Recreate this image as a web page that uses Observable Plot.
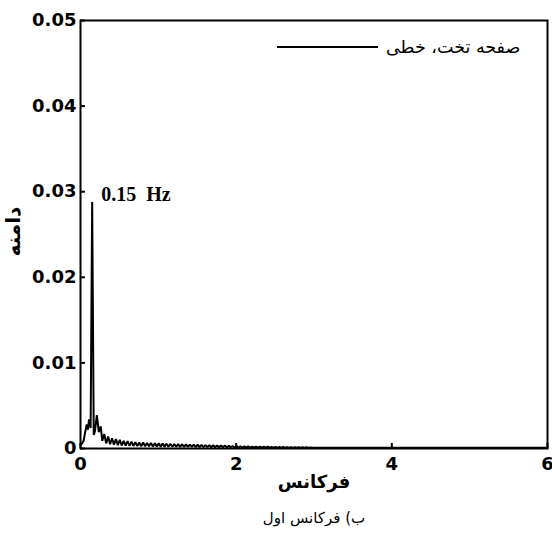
<!DOCTYPE html>
<html>
<head>
<meta charset="utf-8">
<script src="https://cdn.jsdelivr.net/npm/d3@7"></script>
<script src="https://cdn.jsdelivr.net/npm/@observablehq/plot@0.6"></script>
<style>
  html, body { margin: 0; padding: 0; background: #fff; }
  #wrap { position: relative; width: 552px; height: 539px; }
  #legend {
    position: absolute; left: 277px; top: 37px; height: 20px;
    display: flex; align-items: center; gap: 8px;
    font-family: "DejaVu Sans", sans-serif; font-size: 17.5px; line-height: 20px; color: #000;
    white-space: nowrap;
  }
  #legend .swatch { width: 101px; height: 0; border-top: 2px solid #000; }
</style>
</head>
<body>
<div id="wrap">
  <div id="legend"><span class="swatch"></span><span id="legendText"></span></div>
</div>
<script>
// Amplitude spectrum of the flat-plate (linear) response, first mode.
// Frequency in Hz, amplitude in the response units.
const onsetFreq = [0, 0.02, 0.04, 0.06, 0.08, 0.095, 0.11, 0.13, 0.15, 0.17, 0.185, 0.21, 0.235, 0.26];
const onsetAmp  = [0.0004, 0.0006, 0.0009, 0.0019, 0.0028, 0.0022, 0.0034, 0.0024, 0.0288, 0.0016, 0.0020, 0.0039, 0.0019, 0.0026];

// Side-lobe ripple, alternating trough / crest.
const rippleFreq = [
  0.28, 0.305, 0.33, 0.355, 0.38, 0.405, 0.43, 0.455, 0.48, 0.505,
  0.53, 0.555, 0.58, 0.605, 0.63, 0.655, 0.68, 0.705, 0.73, 0.755,
  0.78, 0.805, 0.83, 0.855, 0.88, 0.905, 0.93, 0.955, 0.98, 1.005,
  1.03, 1.055, 1.08, 1.105, 1.13, 1.155, 1.18, 1.205, 1.23, 1.255,
  1.28, 1.305, 1.33, 1.355, 1.38, 1.405, 1.43, 1.455, 1.48, 1.505,
  1.53, 1.555, 1.58, 1.605, 1.63, 1.655, 1.68, 1.705, 1.73, 1.755,
  1.78, 1.805, 1.83, 1.855, 1.88, 1.905, 1.93, 1.955, 1.98, 2.005
];
const rippleAmp = [
  0.0009, 0.0017, 0.0006, 0.0014, 0.0005, 0.0012, 0.00045, 0.0011, 0.0004, 0.0010,
  0.00035, 0.0009, 0.00033, 0.00085, 0.0003, 0.0008, 0.0003, 0.00075, 0.00028, 0.0007,
  0.00027, 0.0007, 0.00026, 0.00065, 0.00025, 0.00065, 0.00024, 0.0006, 0.00023, 0.0006,
  0.00022, 0.00058, 0.00022, 0.00055, 0.00021, 0.00055, 0.0002, 0.00052, 0.0002, 0.0005,
  0.0002, 0.0005, 0.00019, 0.00048, 0.00018, 0.00046, 0.00018, 0.00045, 0.00017, 0.00044,
  0.00017, 0.00042, 0.00016, 0.0004, 0.00016, 0.0004, 0.00015, 0.00038, 0.00015, 0.00036,
  0.00014, 0.00035, 0.00014, 0.00034, 0.00013, 0.00032, 0.00013, 0.0003, 0.00012, 0.0003
];

// Faint tail up to 3 Hz, then flat.
const tailFreq = [
  2.03, 2.055, 2.08, 2.105, 2.13, 2.155, 2.18, 2.205, 2.23, 2.255,
  2.28, 2.305, 2.33, 2.355, 2.38, 2.405, 2.43, 2.455, 2.48, 2.505,
  2.53, 2.555, 2.58, 2.605, 2.63, 2.655, 2.68, 2.705, 2.73, 2.755,
  2.78, 2.805, 2.83, 2.855, 2.88, 2.905, 2.93, 2.955, 2.98, 3.1, 6.0
];
const tailAmp = [
  0.0001, 0.00026, 0.0001, 0.00025, 0.0001, 0.00024, 0.0001, 0.00023, 0.0001, 0.00022,
  0.0001, 0.00021, 0.0001, 0.0002, 0.0001, 0.0002, 0.0001, 0.00019, 0.0001, 0.00018,
  0.0001, 0.00018, 0.0001, 0.00017, 0.0001, 0.00016, 0.0001, 0.00016, 0.0001, 0.00015,
  0.0001, 0.00015, 0.0001, 0.00014, 0.0001, 0.00014, 0.0001, 0.00013, 0.0001, 0.0001, 0.0001
];

const xTicks = [0, 2, 4, 6];
const yTicks = [0, 0.01, 0.02, 0.03, 0.04, 0.05];
const yTickLabels = ["0", "0.01", "0.02", "0.03", "0.04", "0.05"];

const xTitle = "فرکانس";
const yTitle = "دامنه";
const legendLabel = "صفحه تخت، خطی";
const captionText = "ب) فرکانس اول";

const freqs = [...onsetFreq, ...rippleFreq, ...tailFreq];
const amps = [...onsetAmp, ...rippleAmp, ...tailAmp];
const spectrum = freqs.map((f, i) => ({f, a: amps[i]}));
const peak = spectrum.reduce((m, d) => (d.a > m.a ? d : m), spectrum[0]);

const tickFont = {fontFamily: "DejaVu Sans", fontWeight: "bold", fontSize: 18};

const chart = Plot.plot({
  width: 552,
  height: 539,
  marginTop: 20,
  marginBottom: 91,
  marginLeft: 80,
  marginRight: 5,
  style: {background: "#fff", color: "#000", overflow: "visible"},
  x: {domain: [0, 6]},
  y: {domain: [0, 0.05]},
  marks: [
    Plot.line(spectrum, {x: "f", y: "a", stroke: "#000", strokeWidth: 2, strokeLinejoin: "miter"}),
    Plot.frame({stroke: "#000", strokeWidth: 2}),
    Plot.axisX(xTicks, {
      tickSize: -5, tickPadding: 14, strokeWidth: 2, label: null,
      tickFormat: d => String(d), ...tickFont
    }),
    Plot.axisY(yTicks, {
      tickSize: -5, tickPadding: 9, strokeWidth: 2, label: null,
      tickFormat: (d, i) => yTickLabels[i], ...tickFont
    }),
    Plot.text([peak], {
      x: "f", y: "a", text: d => `${d.f.toFixed(2)}\u00A0\u00A0Hz`,
      textAnchor: "start", dx: 9, dy: -7,
      fontFamily: "Liberation Serif", fontWeight: "bold", fontSize: 20
    }),
    Plot.text([xTitle], {
      frameAnchor: "bottom", dy: 39, fontFamily: "DejaVu Sans", fontWeight: "bold", fontSize: 18
    }),
    Plot.text([captionText], {
      frameAnchor: "bottom", dy: 74, fontFamily: "DejaVu Sans", fontSize: 15
    }),
    Plot.text([yTitle], {
      frameAnchor: "left", rotate: -90, dx: -67, dy: 22,
      fontFamily: "DejaVu Sans", fontWeight: "bold", fontSize: 20
    })
  ]
});

const wrap = document.getElementById("wrap");
wrap.insertBefore(chart, wrap.firstChild);
document.getElementById("legendText").textContent = legendLabel;
</script>
</body>
</html>
